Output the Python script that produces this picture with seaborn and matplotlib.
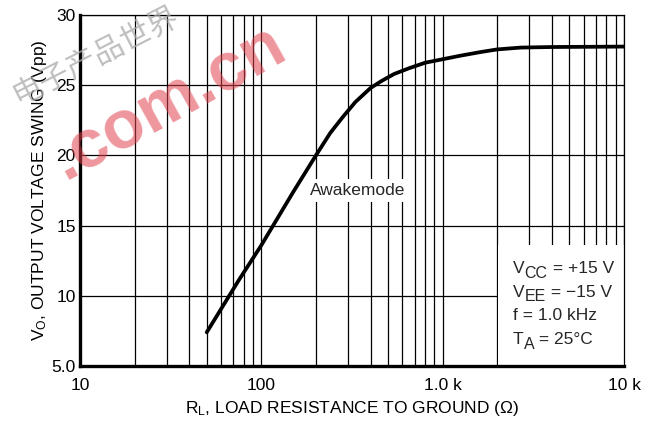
import matplotlib
matplotlib.use("Agg")
import matplotlib.pyplot as plt
import matplotlib.ticker as mticker
from matplotlib.patches import Rectangle
import seaborn as sns
import pandas as pd

# load resistance (ohm) and output swing (Vpp)
load_res = [50, 75, 100, 150, 200, 240, 280, 330, 400, 460, 540, 650, 800, 1000,
            1250, 1600, 2000, 2700, 4000, 10000]
swing_vpp = [7.4, 11.1, 13.6, 17.4, 20.0, 21.6, 22.7, 23.8, 24.8, 25.3, 25.8, 26.2, 26.6, 26.85,
             27.1, 27.35, 27.55, 27.68, 27.72, 27.75]

x_ticks = [10, 100, 1000, 10000]
x_tick_labels = ["10", "100", "1.0 k", "10 k"]
y_ticks = [5, 10, 15, 20, 25, 30]
y_tick_labels = ["5.0", "10", "15", "20", "25", "30"]

# test conditions: (symbol, subscript, rest of line)
cond_lines = [("V", "CC", " = +15 V"), ("V", "EE", " = \u221215 V"),
              ("f = 1.0 kHz", "", ""), ("T", "A", " = 25\u00b0C")]

sns.set_theme(style="white")
plt.rcParams["font.family"] = ["Liberation Sans", "DejaVu Sans"]
plt.rcParams["mathtext.default"] = "regular"

fig = plt.figure(figsize=(6.61, 4.29), dpi=100)
ax = fig.add_axes([80 / 661, 1 - 366 / 429, 544 / 661, 351 / 429])

df = pd.DataFrame({"R": load_res, "V": swing_vpp})
sns.lineplot(data=df, x="R", y="V", ax=ax, color="black", lw=2.7, zorder=4)

ax.set_xscale("log")
ax.set_xlim(10, 10000)
ax.set_ylim(5, 30)
ax.xaxis.set_major_locator(mticker.FixedLocator(x_ticks))
ax.xaxis.set_minor_locator(mticker.LogLocator(base=10, subs=range(2, 10)))
ax.xaxis.set_minor_formatter(mticker.NullFormatter())
ax.set_xticks(x_ticks, x_tick_labels)
ax.set_yticks(y_ticks, y_tick_labels)
ax.tick_params(which="both", length=0, labelsize=12.5, colors="black")
ax.tick_params(axis="x", pad=9)
ax.tick_params(axis="y", pad=3)

ax.grid(which="both", axis="x", color="black", lw=0.9)
ax.grid(which="major", axis="y", color="black", lw=0.9)
ax.set_axisbelow(True)

for side in ["top", "right"]:
    ax.spines[side].set_color("black")
    ax.spines[side].set_linewidth(0.9)
for side in ["left", "bottom"]:
    ax.spines[side].set_color("black")
    ax.spines[side].set_linewidth(2.4)

ax.set_xlabel("R$_L$, LOAD RESISTANCE TO GROUND (Ω)", fontsize=12.5, color="black", labelpad=4)
ax.set_ylabel("V$_O$, OUTPUT VOLTAGE SWING (Vpp)", fontsize=12.5, color="black", labelpad=2)

ax.text(0.51, 0.50, "Awakemode", transform=ax.transAxes, fontsize=12.5, ha="center", va="center",
        zorder=3, bbox=dict(boxstyle="square,pad=0.25", fc="white", ec="none"))

# white panel behind the test conditions
ax.add_patch(Rectangle((0.768, 0.0), 0.232, 0.345, transform=ax.transAxes,
                       fc="white", ec="none", zorder=1))
y0 = 0.30
for i, (sym, sub, rest) in enumerate(cond_lines):
    t = ax.text(0.796, y0 - i * 0.068, sym, transform=ax.transAxes, fontsize=12.5,
                ha="left", va="top", zorder=3)
    if sub:
        s = ax.annotate(sub, xy=(1, 0), xycoords=t, xytext=(0, -3.5), textcoords="offset points",
                        fontsize=11.5, ha="left", va="bottom", zorder=3)
        ax.annotate(rest, xy=(1, 0), xycoords=s, xytext=(0, 3.5), textcoords="offset points",
                    fontsize=12.5, ha="left", va="bottom", zorder=3)

# watermark
fig.text(0.01, 0.74, "电子产品世界", fontsize=22, color="#a8a8a8", alpha=0.75, rotation=27,
         ha="left", va="bottom", family=["Noto Sans CJK SC", "DejaVu Sans"], zorder=10)
fig.text(0.255, 0.76, ".com.cn", fontsize=49, fontweight="bold", color="#e0404c", alpha=0.55,
         rotation=29, ha="center", va="center", zorder=10)

fig.savefig("out.png", dpi=100)
